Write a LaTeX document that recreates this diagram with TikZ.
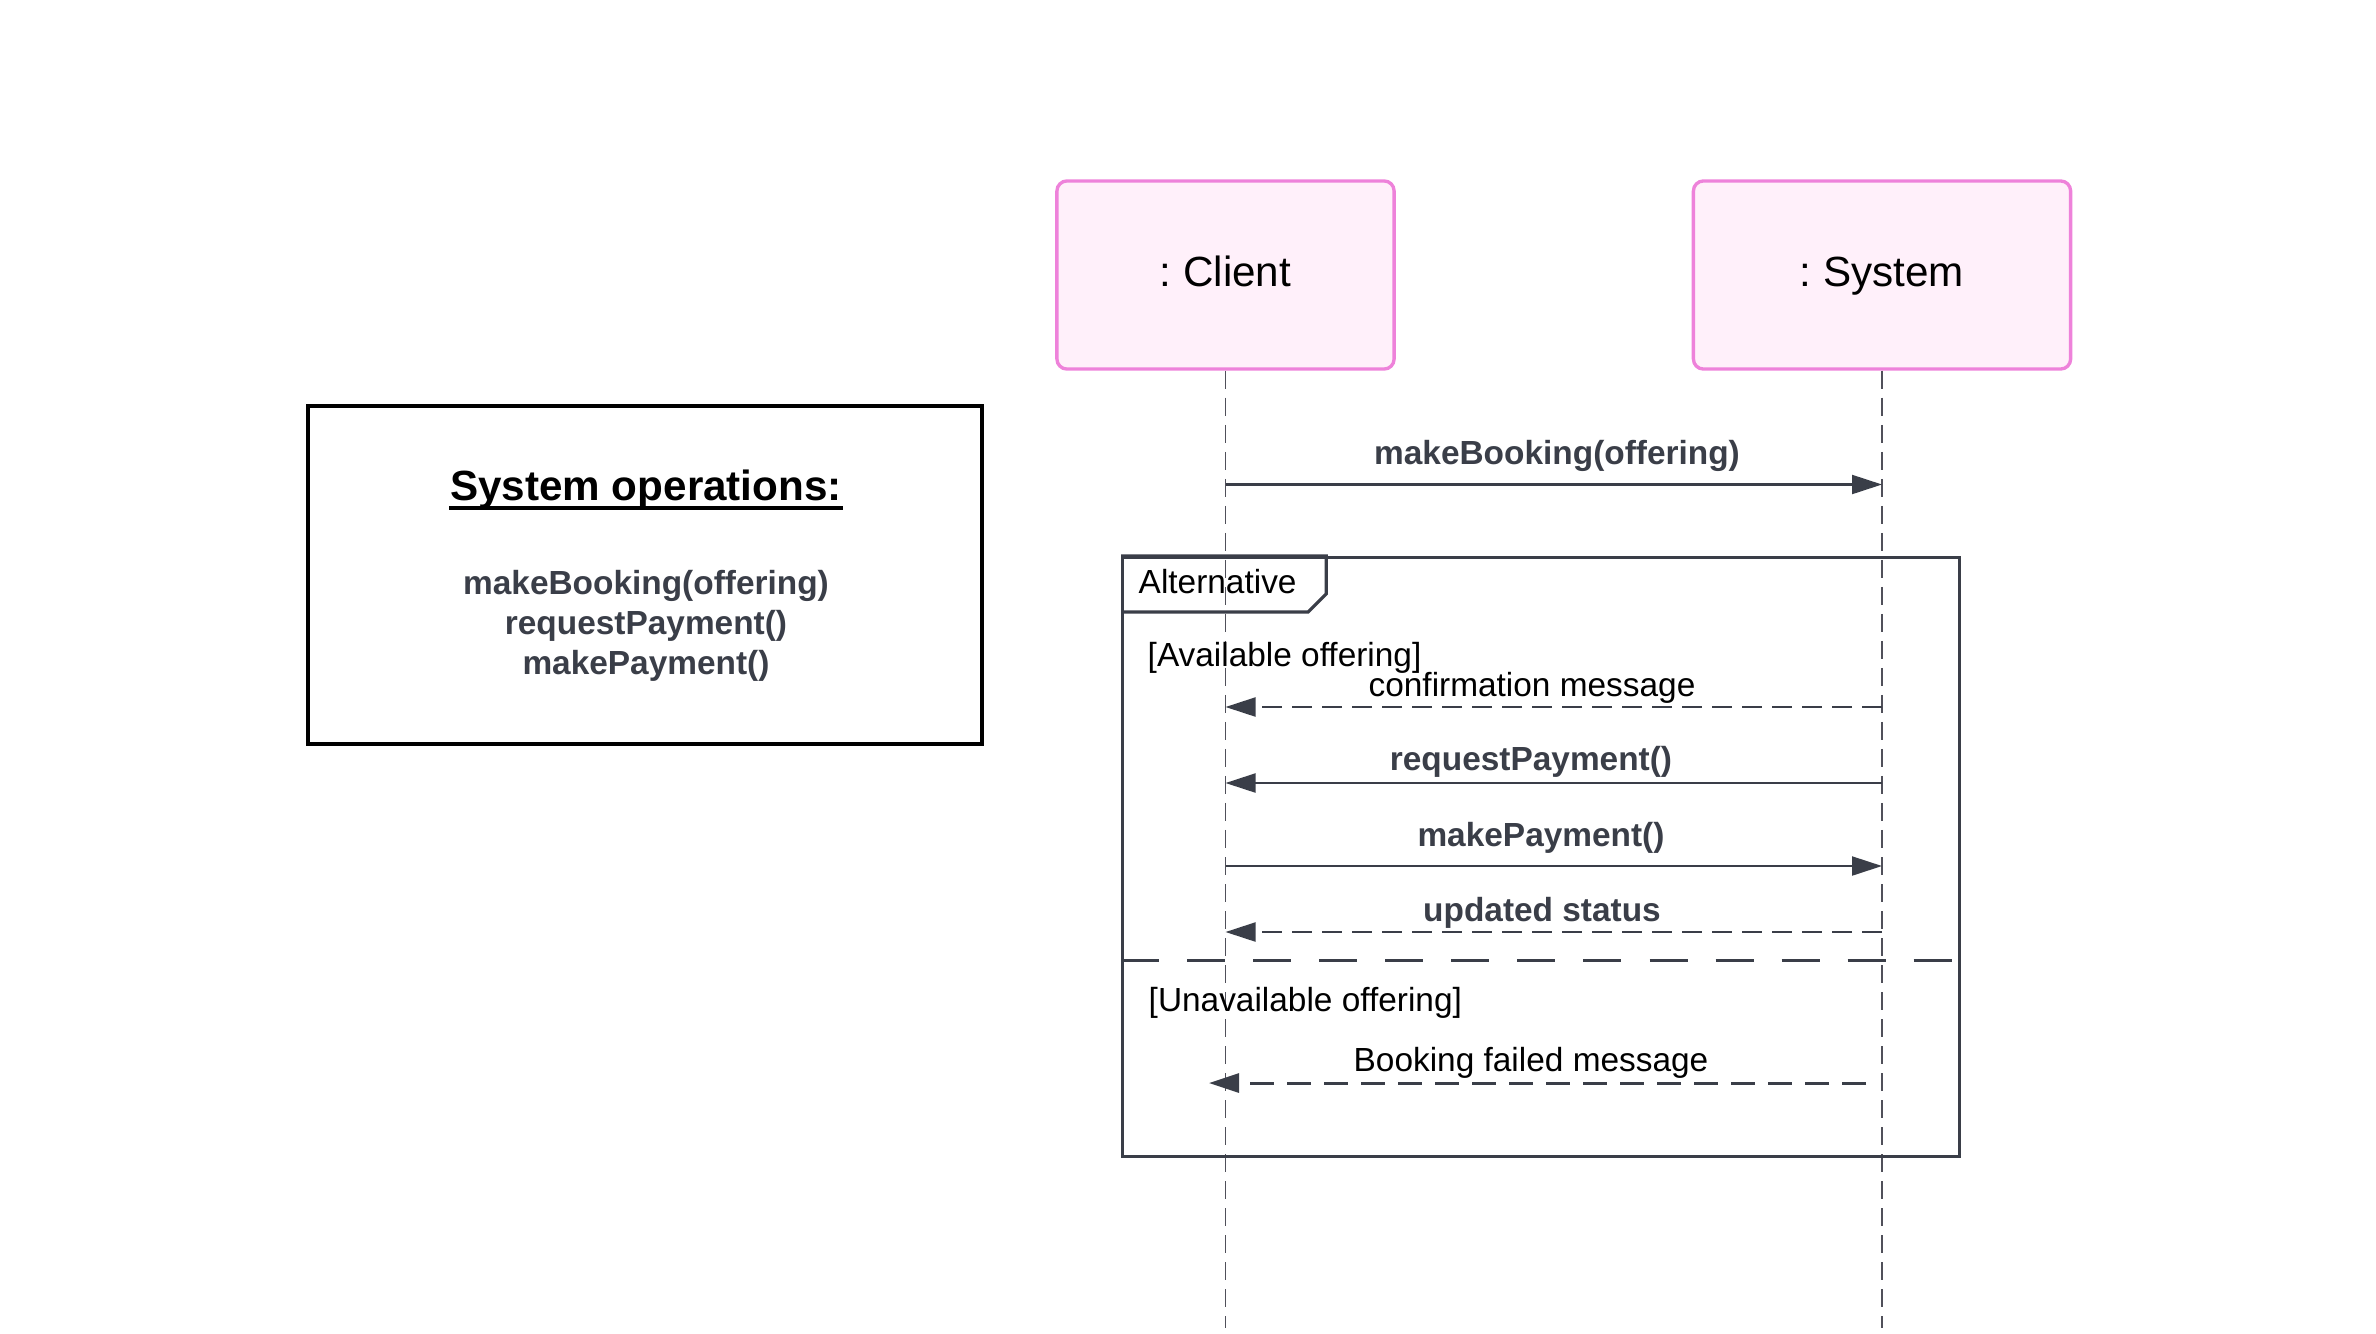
\documentclass[tikz,border=0pt]{standalone}
\usepackage{fontspec}
\setmainfont{Liberation Sans}
\usetikzlibrary{arrows.meta}
\usetikzlibrary{positioning}
\definecolor{pinkline}{RGB}{238,130,218}
\definecolor{pinkfill}{RGB}{255,240,250}
\definecolor{msggray}{RGB}{58,62,72}
\definecolor{lifegray}{RGB}{80,80,90}

\begin{document}
\begin{tikzpicture}[x=0.01cm,y=-0.01cm,
  actor/.style={draw=pinkline,fill=pinkfill,line width=0.95pt,rounded corners=0.1cm,minimum height=1.88cm,text height=9pt,text depth=2.5pt,font=\fontsize{12}{15}\selectfont},
  call/.style={font=\fontsize{9.5}{11.4}\selectfont\bfseries,text=msggray},
  note/.style={font=\fontsize{9.5}{11.4}\selectfont,text=black},
  lifeline/.style={draw=lifegray,line width=0.5pt,dash pattern=on 0.18cm off 0.09cm},
  frame/.style={draw=msggray,line width=0.9pt},
  msg/.style={draw=msggray,line width=0.6pt,-{Triangle[length=\l, width=\w]}},
  reply/.style={msg,dash pattern=on 0.2cm off 0.1cm}]
\def\l{0.3cm}
\def\w{0.19cm}
\useasboundingbox (0,0) rectangle (2376,1333);

% system operations box
\node [draw,black,line width=1pt,minimum width=6.74cm,minimum height=3.38cm,name=ops] at (645,575) {};
\node [font=\fontsize{12}{14}\selectfont\bfseries,inner sep=0pt,name=opstitle] at (646,490) {System operations:};
\draw [black,line width=1.1pt] ([yshift=-2pt]opstitle.base west) -- ([yshift=-2pt]opstitle.base east);
\node [call,align=center,name=opslist] at (646,626) {makeBooking(offering)\\requestPayment()\\makePayment()};

% lifelines
\coordinate (end) at (0,1328);
\node [actor,minimum width=3.37cm,name=client] at (1225.5,275) {:\ Client};
\node [actor,minimum width=3.77cm,name=system] at (1882,275) {:\ System};
\draw [lifeline] (client.south) -- (client |- end);
\draw [lifeline] (system.south) -- (system |- end);

\coordinate (r1) at (0,484.5);
\node [call,name=t1] at (1557,456) {makeBooking(offering)};
\draw [msg] (client |- r1) -- (system |- r1);

% alt fragment
\node [frame,minimum width=8.36cm,minimum height=5.985cm,name=alt] at (1541,857) {};
\draw [frame] (alt.north west) -- ++(205,0) -- ++(0,38) -- ++(-18,18) -- ++(-187,0);
\node [note,anchor=west,inner sep=0pt,name=alttag] at (1138,582) {Alternative};
\node [note,anchor=west,inner sep=0pt,name=g1] at (1147,658) {[Available offering]};

\coordinate (r2) at (0,707);
\coordinate (r3) at (0,783);
\coordinate (r4) at (0,866);
\coordinate (r5) at (0,932);
\node [note,name=t2] at (1532,687.5) {confirmation message};
\draw [reply] (system |- r2) -- (client |- r2);
\node [call,name=t3] at (1531,761.5) {requestPayment()};
\draw [msg] (system |- r3) -- (client |- r3);
\node [call,name=t4] at (1541,837.5) {makePayment()};
\draw [msg] (client |- r4) -- (system |- r4);
\node [call,name=t5] at (1542,912.5) {updated status};
\draw [reply] (system |- r5) -- (client |- r5);

\coordinate (sep) at (0,960.5);
\draw [frame,line width=1pt,dash pattern=on 0.38cm off 0.28cm] (alt.west |- sep) -- (alt.east |- sep);
\node [note,anchor=west,inner sep=0pt,name=g2] at (1148,1003) {[Unavailable offering]};

\coordinate (f1) at (1866,1083);
\coordinate (f2) at (1209,1083);
\node [note,name=t6] at (1531,1062.5) {Booking failed message};
\draw [reply,line width=0.85pt,dash pattern=on 0.24cm off 0.13cm] (f1) -- (f2);
\end{tikzpicture}
\end{document}
